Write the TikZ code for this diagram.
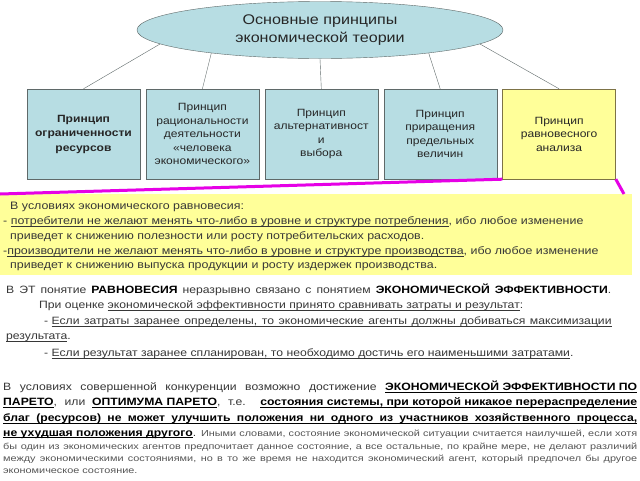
\documentclass[tikz,border=0pt]{standalone}
\usepackage{fontspec}
\setmainfont{Liberation Sans}
\newfontfamily\widefont[FakeStretch=1.15]{Liberation Sans}
\newfontfamily\smallfont[FakeStretch=1.25]{Liberation Sans}
\usetikzlibrary{shapes.geometric, positioning}

\definecolor{boxfill}{RGB}{183,221,227}
\definecolor{boxline}{RGB}{95,105,105}
\definecolor{notefill}{RGB}{255,255,153}
\definecolor{noteline}{RGB}{125,115,70}
\definecolor{callout}{RGB}{230,0,230}
\definecolor{txt}{RGB}{55,55,55}

% underline close to the baseline
\newcommand\ulin[1]{\leavevmode\setbox0=\hbox{#1}\rlap{\rule[-1.7pt]{\wd0}{0.6pt}}\box0}

\tikzset{
  princ/.style={rectangle, draw=boxline, fill=boxfill, minimum width=113pt, minimum height=90pt,
    inner sep=1pt, align=center, text=black!85, font=\widefont\fontsize{10.5}{13.5}\selectfont},
  notetxt/.style={anchor=west, inner sep=0pt, text=txt, font=\widefont\fontsize{10.8}{12}\selectfont},
  bodytxt/.style={anchor=west, inner sep=0pt, text=txt, font=\widefont\fontsize{10.6}{12}\selectfont},
  smalltxt/.style={anchor=west, inner sep=0pt, text=txt!85, font=\smallfont\fontsize{8.7}{11}\selectfont}
}

\begin{document}
\begin{tikzpicture}[x=1pt, y=-1pt]
        \useasboundingbox[fill=white] (0,0) rectangle (640,480);

        \node[ellipse, draw=boxline, fill=boxfill, minimum width=366pt, minimum height=57pt, inner sep=0pt,
          align=center, text=black!85, font=\widefont\fontsize{14}{18}\selectfont](main) at (320,30){Основные принципы\\экономической теории};

        \node[princ, font=\widefont\bfseries\fontsize{10.5}{14.5}\selectfont](p1) at (83.5,134){Принцип\\ограниченности\\ресурсов};
        \node[princ](p2)[right = 5.5pt of p1]{Принцип\\рациональности\\деятельности\\«человека\\экономического»};
        \node[princ](p3)[right = 5.5pt of p2]{Принцип\\альтернативност\\и\\выбора};
        \node[princ](p4)[right = 5.5pt of p3]{Принцип\\приращения\\предельных\\величин};
        \node[princ, draw=noteline, fill=notefill](p5)[right = 5.5pt of p4]{Принцип\\равновесного\\анализа};

        \path[draw, boxline]
        (main.185) edge (p1.north)
        (main.192) edge (p2.north)
        (main.south) edge (p3.north)
        (main.348) edge (p4.north)
        (main.355) edge (p5.north);

        % callout
        \node[fill=notefill, minimum width=632pt, minimum height=81pt, inner sep=0pt, anchor=north west](note) at (0,194){};
        \coordinate (tip) at (624,194);
        \draw[callout, line width=3pt] (note.north west) -- (p5.south west) (p5.south east) -- (tip);

        \node[notetxt](n1) at (10,207){В условиях экономического равновесия:};
        \node[notetxt](n2) at (3,222){- \ulin{потребители не желают менять что-либо в уровне и структуре потребления}, ибо любое изменение};
        \node[notetxt](n3) at (10,237){приведет к снижению полезности или росту потребительских расходов.};
        \node[notetxt](n4) at (3,252){-\ulin{производители не желают менять что-либо в уровне и структуре производства}, ибо любое изменение};
        \node[notetxt](n5) at (10,267){приведет к снижению выпуска продукции и росту издержек производства.};

        % efficiency
        \node[bodytxt](e1) at (6,290){\makebox[605pt][s]{В ЭТ понятие {\color{black}\bfseries РАВНОВЕСИЯ} неразрывно связано с понятием {\color{black}\bfseries ЭКОНОМИЧЕСКОЙ ЭФФЕКТИВНОСТИ}.}};
        \node[bodytxt](e2) at (39,306){При оценке \ulin{экономической эффективности принято сравнивать затраты и результат}:};
        \node[bodytxt](e3) at (44,322){- \ulin{\makebox[560pt][s]{Если затраты заранее определены, то экономические агенты должны добиваться максимизации}}};
        \node[bodytxt](e4) at (6,338){\ulin{результата}.};
        \node[bodytxt](e5) at (44,354){- \ulin{Если результат заранее спланирован, то необходимо достичь его наименьшими затратами}.};

        % pareto
        \node[bodytxt](q1) at (3,387){\makebox[634pt][s]{В условиях совершенной конкуренции возможно достижение {\color{black}\bfseries\ulin{ЭКОНОМИЧЕСКОЙ ЭФФЕКТИВНОСТИ ПО}}}};
        \node[bodytxt](q2) at (3,403){\makebox[634pt][s]{{\color{black}\bfseries\ulin{ПАРЕТО}}, или {\color{black}\bfseries\ulin{ОПТИМУМА ПАРЕТО}}, т.е. {\color{black}\bfseries\ulin{состояния системы, при которой никакое перераспределение}}}};
        \node[bodytxt](q3) at (3,419){\color{black}\bfseries\ulin{\makebox[634pt][s]{благ (ресурсов) не может улучшить положения ни одного из участников хозяйственного процесса,}}};
        \node[bodytxt](q4) at (3,434){\makebox[634pt][s]{{\color{black}\bfseries\ulin{не ухудшая положения другого}}. {\smallfont\fontsize{8.7}{11}\selectfont\color{txt!85} Иными словами, состояние экономической ситуации считается наилучшей, если хотя}}};
        \node[smalltxt](q5) at (3,447){\makebox[634pt][s]{бы один из экономических агентов предпочитает данное состояние, а все остальные, по крайне мере, не делают различий}};
        \node[smalltxt](q6) at (3,459){\makebox[634pt][s]{между экономическими состояниями, но в то же время не находится экономический агент, который предпочел бы другое}};
        \node[smalltxt](q7) at (3,471){экономическое состояние.};
\end{tikzpicture}
\end{document}
